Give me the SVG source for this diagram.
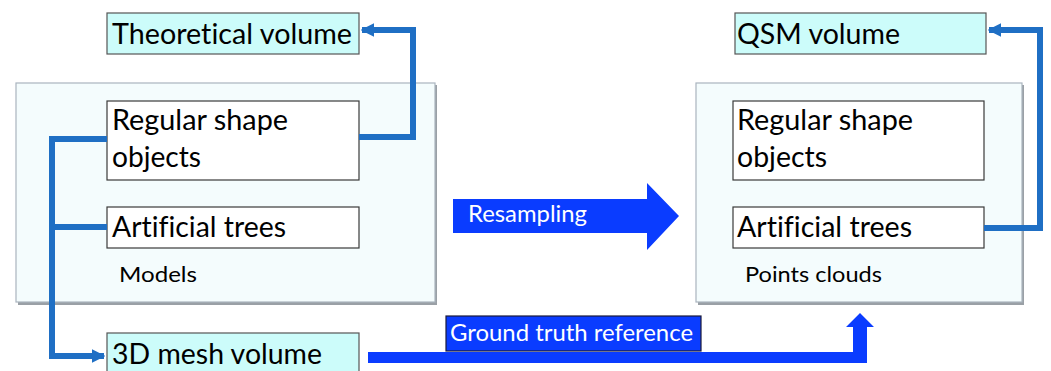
<svg xmlns="http://www.w3.org/2000/svg" width="1051" height="371" viewBox="0 0 1051 371">
<style>
  .panel{fill:#f4fcfd;stroke:#aab4be;stroke-width:1.2}
  .shadow{fill:#9aa0a6}
  .box{fill:#ffffff;stroke:#3a3a3a;stroke-width:1.2}
  .vol{fill:#ccfcfa;stroke:#555555;stroke-width:1.2}
  .t{font-family:Lato,"Open Sans","Liberation Sans",sans-serif;fill:#000;font-variant-ligatures:none}
  .big{font-size:28px}
  .small{font-size:22px}
  .w{font-family:Lato,"Open Sans","Liberation Sans",sans-serif;fill:#ffffff;font-size:23px}
  .conn{fill:none;stroke:#1f6fc4;stroke-width:6;stroke-linejoin:miter}
  .blk{fill:#0a3cff}
</style>
<defs>
  <marker id="ah" viewBox="0 0 10 10" refX="9" refY="5" markerWidth="2.3" markerHeight="2.6" markerUnits="strokeWidth" orient="auto">
    <path d="M0,0 L10,5 L0,10 Z" fill="#1f6fc4"/>
  </marker>
</defs>
<rect width="1051" height="371" fill="#ffffff"/>

<g id="panel-models">
  <rect class="shadow" x="18" y="85" width="419" height="220"/>
  <rect class="panel" x="16" y="83" width="419" height="219"/>
  <text class="t small" x="119" y="282" textLength="78" lengthAdjust="spacingAndGlyphs">Models</text>
</g>
<g id="panel-points">
  <rect class="shadow" x="698" y="85" width="326" height="220"/>
  <rect class="panel" x="696" y="83" width="326" height="219"/>
  <text class="t small" x="745" y="282" textLength="137" lengthAdjust="spacingAndGlyphs">Points clouds</text>
</g>

<g id="theoretical-volume">
  <rect class="vol" x="107" y="13" width="252" height="41"/>
  <text class="t big" x="112" y="44" textLength="240" lengthAdjust="spacingAndGlyphs">Theoretical volume</text>
</g>
<g id="regular-left">
  <rect class="box" x="107" y="101" width="252" height="79"/>
  <text class="t big" x="112" y="130" textLength="176" lengthAdjust="spacingAndGlyphs">Regular shape</text>
  <text class="t big" x="112" y="167" textLength="89" lengthAdjust="spacingAndGlyphs">objects</text>
</g>
<g id="trees-left">
  <rect class="box" x="107" y="207" width="252" height="41"/>
  <text class="t big" x="112" y="237" textLength="174" lengthAdjust="spacingAndGlyphs">Artificial trees</text>
</g>
<g id="mesh-volume">
  <rect class="vol" x="107" y="333" width="252" height="45"/>
  <text class="t big" x="112" y="364" textLength="210" lengthAdjust="spacingAndGlyphs">3D mesh volume</text>
</g>

<g id="qsm-volume">
  <rect class="vol" x="735" y="13" width="251" height="41"/>
  <text class="t big" x="737" y="44" textLength="163" lengthAdjust="spacingAndGlyphs">QSM volume</text>
</g>
<g id="regular-right">
  <rect class="box" x="733" y="101" width="251" height="79"/>
  <text class="t big" x="737" y="130" textLength="176" lengthAdjust="spacingAndGlyphs">Regular shape</text>
  <text class="t big" x="737" y="167" textLength="90" lengthAdjust="spacingAndGlyphs">objects</text>
</g>
<g id="trees-right">
  <rect class="box" x="733" y="207" width="251" height="41"/>
  <text class="t big" x="737" y="237" textLength="175" lengthAdjust="spacingAndGlyphs">Artificial trees</text>
</g>

<g id="connectors">
  <polyline class="conn" points="359,137 413,137 413,30 362,30" marker-end="url(#ah)"/>
  <polyline class="conn" points="107,139 52,139 52,356 104,356" marker-end="url(#ah)"/>
  <line class="conn" x1="52" y1="227" x2="107" y2="227"/>
  <polyline class="conn" points="984,228 1040,228 1040,30 989,30" marker-end="url(#ah)"/>
  <polygon class="blk" points="368,352 853,352 853,327 846,327 860,313 874,327 867,327 867,363 368,363"/>
</g>

<g id="resampling">
  <polygon class="blk" points="453,199 647,199 647,183 679,216 647,250 647,233 453,233"/>
  <text class="w" x="468" y="222" textLength="119" lengthAdjust="spacingAndGlyphs">Resampling</text>
</g>
<g id="ground-truth">
  <rect x="446" y="316" width="255" height="35" fill="#0a3cff" stroke="#1a1a3a" stroke-width="1.2"/>
  <text class="w" x="450" y="341" textLength="243" lengthAdjust="spacingAndGlyphs">Ground truth reference</text>
</g>
</svg>
